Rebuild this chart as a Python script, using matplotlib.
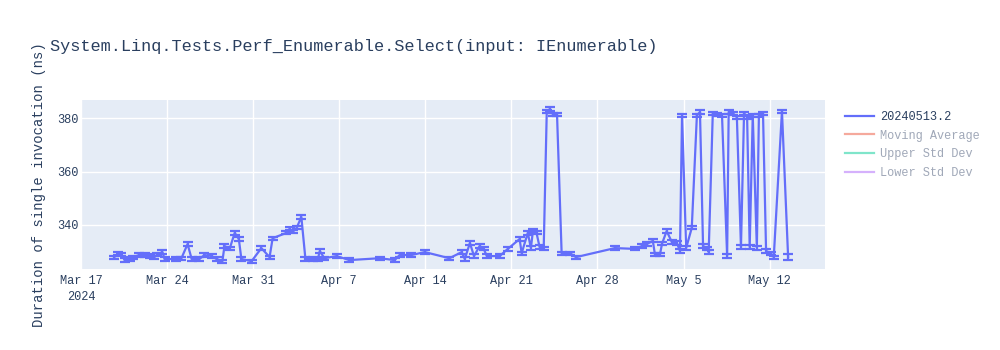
import pandas as pd
import matplotlib.pyplot as plt
from matplotlib.lines import Line2D

title = "System.Linq.Tests.Perf_Enumerable.Select(input: IEnumerable)"
y_label = "Duration of single invocation (ns)"
legend_labels = ["20240513.2", "Moving Average", "Upper Std Dev", "Lower Std Dev"]

times = [
    "2024-03-19 17:00", "2024-03-20 01:00", "2024-03-20 07:00", "2024-03-20 13:00",
    "2024-03-20 23:00", "2024-03-21 05:00", "2024-03-21 18:00", "2024-03-22 04:00",
    "2024-03-22 14:00", "2024-03-22 23:00", "2024-03-23 05:00", "2024-03-23 15:00",
    "2024-03-23 19:00", "2024-03-24 18:00", "2024-03-25 04:00", "2024-03-25 16:00",
    "2024-03-26 00:00", "2024-03-26 15:00", "2024-03-27 01:00", "2024-03-27 15:00",
    "2024-03-28 00:30", "2024-03-28 12:00", "2024-03-28 16:00", "2024-03-29 02:00",
    "2024-03-29 12:00", "2024-03-29 20:00", "2024-03-30 01:00", "2024-03-30 21:00",
    "2024-03-31 16:00", "2024-04-01 08:00", "2024-04-01 14:00", "2024-04-02 17:00",
    "2024-04-02 23:00", "2024-04-03 05:00", "2024-04-03 13:00", "2024-04-03 22:00",
    "2024-04-04 06:00", "2024-04-04 20:00", "2024-04-05 06:00", "2024-04-05 10:00",
    "2024-04-05 19:00", "2024-04-06 19:00", "2024-04-07 20:00", "2024-04-10 07:00",
    "2024-04-11 12:00", "2024-04-11 22:00", "2024-04-12 21:00", "2024-04-13 23:00",
    "2024-04-15 23:00", "2024-04-16 23:00", "2024-04-17 05:00", "2024-04-17 15:00",
    "2024-04-17 23:00", "2024-04-18 10:00", "2024-04-18 18:00", "2024-04-19 00:00",
    "2024-04-20 01:00", "2024-04-20 17:00", "2024-04-21 16:00", "2024-04-21 20:00",
    "2024-04-22 08:00", "2024-04-22 14:00", "2024-04-22 18:00", "2024-04-23 01:00",
    "2024-04-23 07:00", "2024-04-23 15:00", "2024-04-23 21:00", "2024-04-24 03:00",
    "2024-04-24 09:00", "2024-04-24 17:00", "2024-04-25 02:00", "2024-04-25 18:00",
    "2024-04-26 06:00", "2024-04-29 10:00", "2024-05-01 01:00", "2024-05-01 15:00",
    "2024-05-02 00:00", "2024-05-02 12:00", "2024-05-02 16:00", "2024-05-03 02:00",
    "2024-05-03 06:00", "2024-05-03 15:00", "2024-05-04 01:00", "2024-05-04 11:00",
    "2024-05-04 17:00", "2024-05-04 21:00", "2024-05-05 05:00", "2024-05-05 16:00",
    "2024-05-06 02:00", "2024-05-06 08:00", "2024-05-06 14:00", "2024-05-06 22:00",
    "2024-05-07 01:00", "2024-05-07 09:00", "2024-05-07 17:00", "2024-05-08 03:00",
    "2024-05-08 13:00", "2024-05-08 16:00", "2024-05-09 00:00", "2024-05-09 08:00",
    "2024-05-09 16:00", "2024-05-09 22:00", "2024-05-10 04:00", "2024-05-10 09:00",
    "2024-05-10 15:00", "2024-05-10 23:00", "2024-05-11 03:00", "2024-05-11 11:00",
    "2024-05-11 17:00", "2024-05-12 02:00", "2024-05-12 08:00", "2024-05-13 00:00",
    "2024-05-13 12:00",
]

durations = [
    327.9, 329.4, 329.0, 326.8, 327.2, 327.9, 328.7, 328.7,
    328.3, 327.9, 328.9, 329.8, 327.2, 327.2, 327.5, 332.8,
    327.2, 327.2, 328.7, 328.3, 327.2, 326.4, 332.1, 331.0,
    337.0, 334.7, 327.2, 326.4, 331.3, 327.9, 335.0, 337.0,
    338.5, 337.4, 338.9, 343.0, 327.2, 327.2, 327.0, 330.2,
    327.5, 328.3, 326.8, 327.5, 326.8, 328.7, 328.7, 329.8,
    327.5, 329.8, 327.2, 333.2, 328.3, 332.1, 331.0, 328.3,
    328.3, 331.0, 334.7, 329.4, 337.0, 331.3, 337.7, 337.0,
    331.7, 331.0, 382.6, 383.4, 381.5, 381.5, 329.4, 329.4,
    327.9, 331.3, 331.0, 332.1, 332.8, 334.0, 329.0, 329.0,
    333.0, 337.7, 333.6, 333.2, 330.2, 381.1, 331.3, 338.9,
    381.1, 382.3, 332.1, 331.0, 329.8, 381.9, 381.5, 381.1,
    328.3, 382.3, 381.9, 380.4, 331.7, 381.9, 380.4, 331.7,
    381.1, 331.3, 381.1, 381.9, 330.2, 329.4, 327.9, 382.6,
    328.0,
]

errors = [
    0.6, 0.6, 0.6, 0.6, 0.6, 0.6, 0.6, 0.6,
    0.6, 0.6, 0.6, 0.6, 0.6, 0.6, 0.6, 0.6,
    0.6, 0.6, 0.6, 0.6, 0.6, 0.6, 0.8, 0.6,
    0.8, 0.8, 0.6, 0.6, 0.6, 0.6, 0.6, 0.6,
    0.6, 0.6, 0.6, 0.8, 0.6, 0.6, 0.6, 0.8,
    0.6, 0.6, 0.6, 0.6, 0.6, 0.6, 0.6, 0.6,
    0.6, 0.6, 0.6, 0.8, 0.6, 0.6, 0.6, 0.6,
    0.6, 0.8, 0.8, 0.6, 0.8, 0.8, 0.6, 0.6,
    0.6, 0.6, 0.6, 0.8, 0.6, 0.6, 0.6, 0.6,
    0.6, 0.6, 0.6, 0.6, 0.6, 0.6, 0.6, 0.6,
    0.6, 0.8, 0.6, 0.6, 0.6, 0.6, 0.6, 0.6,
    0.6, 0.6, 0.6, 0.6, 0.6, 0.6, 0.6, 0.6,
    0.6, 0.6, 0.6, 0.6, 0.6, 0.6, 0.6, 0.6,
    0.6, 0.6, 0.6, 0.6, 0.6, 0.6, 0.6, 0.6,
    1.0,
]

x = pd.to_datetime(times)

plt.rcParams["font.family"] = ["Liberation Mono", "DejaVu Sans Mono"]
text_color = "#2a3f5f"

fig = plt.figure(figsize=(10, 3.5), dpi=100)
ax = fig.add_axes([0.081, 0.231, 0.744, 0.483])
ax.set_facecolor("#e5ecf6")

ax.errorbar(x, durations, yerr=errors, color="#636efa", linewidth=1.6,
            elinewidth=1.6, capsize=3.5, capthick=1.6, zorder=3)

ax.set_xlim(pd.Timestamp("2024-03-17 00:00"), pd.Timestamp("2024-05-16 12:00"))
ax.set_ylim(323.4, 386.8)
ax.set_yticks([340, 360, 380])

ticks = pd.date_range("2024-03-17", "2024-05-12", freq="7D")
ax.set_xticks(ticks)
tick_labels = [t.strftime("%b ") + str(t.day) for t in ticks]
tick_labels[0] = tick_labels[0] + "\n2024"
ax.set_xticklabels(tick_labels, linespacing=1.5)

ax.grid(True, color="white", linewidth=1)
ax.set_axisbelow(True)
for s in ax.spines.values():
    s.set_visible(False)
ax.tick_params(length=0, labelsize=8.6, colors=text_color)
ax.tick_params(axis="x", pad=4)
ax.tick_params(axis="y", pad=2)

ax.set_ylabel(y_label, fontsize=10, color=text_color, labelpad=8)
fig.text(0.05, 0.868, title, fontsize=12.2, color=text_color, va="center")

handles = [
    Line2D([], [], color="#636efa", linewidth=1.6),
    Line2D([], [], color="#f5a99c", linewidth=1.6),
    Line2D([], [], color="#7fe5ca", linewidth=1.6),
    Line2D([], [], color="#d5b1fc", linewidth=1.6),
]
leg = ax.legend(handles, legend_labels, loc="upper left", bbox_to_anchor=(1.015, 0.985),
                frameon=False, fontsize=8.6, handlelength=2.5, handletextpad=0.5,
                labelspacing=0.55, borderaxespad=0.3)
for i, t in enumerate(leg.get_texts()):
    t.set_color(text_color if i == 0 else "#a0a8b8")

fig.savefig("out.png", dpi=100)
